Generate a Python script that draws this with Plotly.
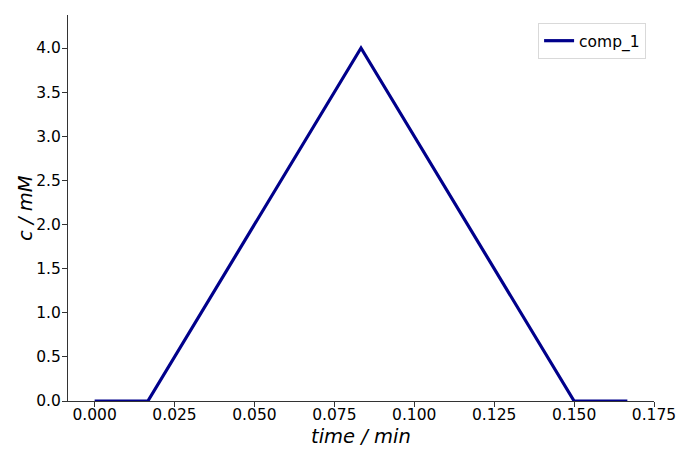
import plotly.graph_objects as go

# triangular pulse of comp_1
time = [0.0, 0.016667, 0.083333, 0.15, 0.166667]
conc = [0.0, 0.0, 4.0, 0.0, 0.0]

xticks = [0.0, 0.025, 0.05, 0.075, 0.1, 0.125, 0.15, 0.175]
yticks = [0.0, 0.5, 1.0, 1.5, 2.0, 2.5, 3.0, 3.5, 4.0]

fig = go.Figure()
fig.add_trace(go.Scatter(x=time, y=conc, mode="lines", name="comp_1",
                         line=dict(color="#00008B", width=3.2)))

font = "DejaVu Sans"
# page body has an 8px margin, so the figure is a bit smaller than the window
fig.update_layout(
    width=682, height=455,
    margin=dict(l=60, r=36, t=7, b=62, autoexpand=False),
    plot_bgcolor="white", paper_bgcolor="white",
    font=dict(family=font, size=15.5, color="black"),
    showlegend=True,
    legend=dict(x=0.9865, y=0.979, xanchor="right", yanchor="top",
                bordercolor="#d9d9d9", borderwidth=1, bgcolor="white",
                font=dict(size=15.5)),
    annotations=[
        dict(text="<i>time / min</i>", x=0.5, y=0, xref="paper", yref="paper",
             xanchor="center", yanchor="middle", yshift=-35, showarrow=False,
             font=dict(size=19.5)),
        dict(text="<i>c / mM</i>", x=0, y=0.5, xref="paper", yref="paper",
             xanchor="center", yanchor="middle", xshift=-43, textangle=-90,
             showarrow=False, font=dict(size=19.5)),
    ],
)
fig.update_xaxes(range=[-0.008333, 0.175], tickvals=xticks,
                 ticktext=["%.3f" % v for v in xticks],
                 showgrid=False, zeroline=False, showline=True,
                 linecolor="#333", linewidth=1, automargin=False,
                 ticks="outside", ticklen=5, tickcolor="#333",
                 ticklabelstandoff=-6)
fig.update_yaxes(range=[0, 4.374], tickvals=yticks,
                 ticktext=["%.1f" % v for v in yticks],
                 showgrid=False, zeroline=False, showline=True,
                 linecolor="#333", linewidth=1, automargin=False,
                 ticks="outside", ticklen=5, tickcolor="#333",
                 ticklabelstandoff=-2)

fig.write_html("out.html")
